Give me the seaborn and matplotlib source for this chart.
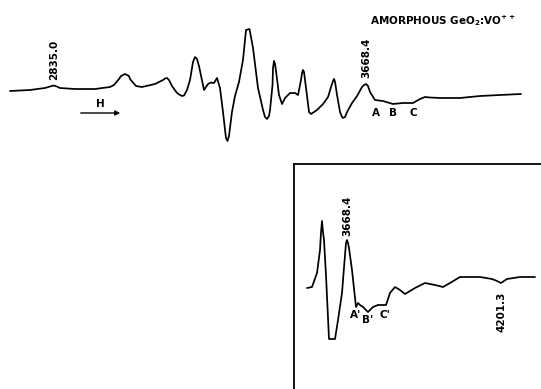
import matplotlib
matplotlib.use("Agg")
import matplotlib.pyplot as plt
import seaborn as sns
import pandas as pd

# ---- main spectrum (field in gauss, derivative signal in arb. units) ----
main_field = [2717.5, 2770.9, 2811.0, 2824.3, 2835.0, 2845.7, 2851.0, 2891.1, 2944.5, 2984.6,
              2995.3, 3008.6, 3014.0, 3024.7, 3035.3, 3038.0, 3054.0, 3070.1, 3104.8, 3126.2,
              3131.5, 3136.8, 3142.2, 3150.2, 3163.6, 3171.6, 3176.9, 3182.3, 3190.3, 3198.3,
              3206.3, 3211.6, 3216.9, 3222.3, 3235.7, 3246.4, 3254.4, 3262.4, 3270.4, 3278.4,
              3286.4, 3294.4, 3298.4, 3302.4, 3310.4, 3318.5, 3329.1, 3339.8, 3347.9, 3357.2,
              3366.6, 3379.9, 3393.3, 3398.6, 3404.0, 3409.3, 3412.0, 3418.7, 3420.0, 3422.7,
              3425.4, 3429.4, 3436.0, 3444.1, 3452.1, 3465.4, 3478.8, 3486.8, 3494.8, 3497.5,
              3500.2, 3502.8, 3508.2, 3516.2, 3521.5, 3537.5, 3553.6, 3567.0, 3575.0, 3580.3,
              3583.0, 3585.7, 3591.0, 3599.0, 3604.4, 3607.0, 3612.4, 3617.7, 3631.1, 3644.5,
              3657.7, 3663.1, 3668.4, 3673.7, 3679.1, 3692.4, 3713.8, 3740.5, 3767.2, 3793.9,
              3812.6, 3826.0, 3839.3, 3866.0, 3919.5, 3972.9, 4026.3, 4082.4]
main_signal = [-1, 0, 2, 3.5, 4.5, 3, 2, 1, 1, 3,
               5, 11, 14, 16, 14, 11, 4, 3, 6, 10,
               11.5, 12, 10, 4, -3, -5, -6, -5.5, 0, 10,
               28, 33, 31, 24, 0, 6, 7.5, 7, 12, 2,
               -22, -48, -51, -46, -22, -6, 8, 30, 60, 61,
               42, 2, -20, -27, -29, -26, -20, 5, 22, 29,
               26, 15, -5, -14, -8, -3, -3, -5, 10, 17,
               20, 18, 2, -22, -24, -20, -14, -7, 3, 9,
               11, 8, -5, -22, -27, -28, -27, -22, -13, -6,
               3, 5, 6, 4, -2, -10, -11, -14, -13, -13,
               -9, -7, -7.5, -8, -8, -6, -5, -4]

# ---- inset spectrum (expanded gain) ----
inset_field = [3530.0, 3547.3, 3564.6, 3575.0, 3578.5, 3581.9, 3585.3, 3588.8, 3595.7, 3606.1,
               3626.9, 3637.3, 3651.1, 3661.5, 3665.0, 3668.4, 3671.9, 3675.3, 3685.7, 3699.5,
               3706.5, 3713.4, 3723.8, 3741.1, 3758.4, 3775.7, 3803.4, 3817.2, 3834.5, 3851.8,
               3869.1, 3903.7, 3938.3, 3972.9, 4000.6, 4024.8, 4059.4, 4128.6, 4170.2, 4187.5,
               4201.3, 4222.0, 4267.0, 4319.0]
inset_signal = [0, 1, 15, 38, 56, 67, 56, 48, 13, -51,
                -51, -32, -5, 33, 45, 48, 45, 40, 18, -19,
                -15, -17, -19, -24, -19, -17, -17, -5, 1, -2,
                -6, 0, 5, 3, 1, 5, 11, 11, 9, 7,
                5, 9, 11, 11]

main_marks = ["2835.0", "3668.4"]
main_mark_field = [2835.0, 3668.4]
main_letters = ["A", "B", "C"]
main_letter_field = [3695.1, 3740.5, 3793.9]
inset_marks = ["3668.4", "4201.3"]
inset_mark_field = [3668.4, 4201.3]
inset_letters = ["A'", "B'", "C'"]
inset_letter_field = [3699.5, 3741.1, 3799.9]
title = "AMORPHOUS GeO$_\\mathbf{2}$:VO$^{\\mathbf{++}}$"

sns.set_style("white")
plt.rcParams["font.family"] = ["DejaVu Sans"]

fig = plt.figure(figsize=(5.41, 3.89), dpi=100)
fig.patch.set_facecolor("white")

# top axes spanning the whole figure
ax = fig.add_axes([0, 0, 1, 1])
df_main = pd.DataFrame({"field": main_field, "signal": main_signal})
sns.lineplot(data=df_main, x="field", y="signal", ax=ax, color="black", lw=1.25,
             estimator=None, sort=False)
ax.set_xlim(2690.8, 4135.8)
ax.set_ylim(-299, 90)
ax.axis("off")

tkw = dict(color="black", fontsize=7.5, fontweight="bold")
ax.text(main_mark_field[0], 10, main_marks[0], rotation=90, ha="center", va="bottom", **tkw)
ax.text(main_mark_field[1], 12, main_marks[1], rotation=90, ha="center", va="bottom", **tkw)
for lab, f in zip(main_letters, main_letter_field):
    ax.text(f, -18, lab, ha="center", va="top", **tkw)
ax.annotate("", xy=(3019.3, -23), xytext=(2899.1, -23),
            arrowprops=dict(arrowstyle="-|>", color="black", lw=1.0, mutation_scale=7))
ax.text(2957.9, -19, "H", ha="center", va="bottom", **tkw)

fig.text(443 / 541, 1 - 21 / 389, title, ha="center", va="center", color="black",
         fontsize=7.5, fontweight="bold")

# inset axes (lower right box)
ax2 = fig.add_axes([294 / 541, 0, 1 - 294 / 541, (389 - 164) / 389])
df_in = pd.DataFrame({"field": inset_field, "signal": inset_signal})
sns.lineplot(data=df_in, x="field", y="signal", ax=ax2, color="black", lw=1.25,
             estimator=None, sort=False)
ax2.set_xlim(3485.0, 4339.7)
ax2.set_ylim(-101, 124)
ax2.set_xticks([])
ax2.set_yticks([])
ax2.set_xlabel("")
ax2.set_ylabel("")
ax2.patch.set_alpha(0)
for s in ["right", "bottom"]:
    ax2.spines[s].set_visible(False)
for s in ["left", "top"]:
    ax2.spines[s].set_visible(True)
    ax2.spines[s].set_color("black")
    ax2.spines[s].set_linewidth(1.3)

ax2.text(inset_mark_field[0], 52, inset_marks[0], rotation=90, ha="center", va="bottom", **tkw)
ax2.text(inset_mark_field[1], -4, inset_marks[1], rotation=90, ha="center", va="top", **tkw)
for lab, f, dy in zip(inset_letters, inset_letter_field, [-22, -27, -22]):
    ax2.text(f, dy, lab, ha="center", va="top", **tkw)

fig.savefig("out.png", dpi=100, facecolor="white")
